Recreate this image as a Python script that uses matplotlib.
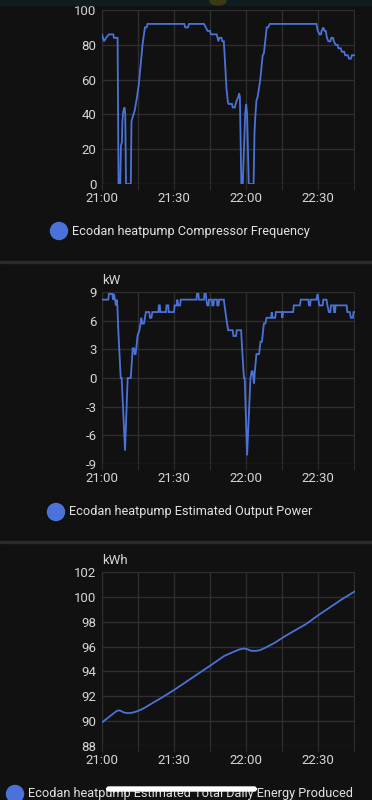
import matplotlib
matplotlib.use("Agg")
import matplotlib.pyplot as plt
from matplotlib.patches import FancyBboxPatch, Rectangle, Ellipse

# minutes after 21:00
freq_t = [0, 0.8, 1.7, 2.9, 4.7, 5.0, 6.5, 6.9, 7.6, 7.9, 8.3, 8.5, 8.9, 9.4, 9.7, 10.0,
          12.0, 12.3, 12.7, 13.1, 13.6, 14.6, 15.4, 16.9, 17.3, 17.9, 18.6, 19.0,
          34.3, 34.7, 35.8, 36.3, 42.5, 43.3, 44.0, 45.0, 45.4, 47.8, 48.2, 48.5, 49.0,
          49.8, 50.2, 50.8, 51.3, 51.9, 52.5, 52.8, 54.2, 54.5, 55.4, 55.7, 56.2, 56.8,
          57.2, 57.5, 58.1, 58.7, 59.2, 59.7, 60.1, 60.5, 61.2, 63.2, 63.6, 63.9, 64.4,
          64.9, 66.0, 67.0, 67.5, 68.7, 69.3, 70.0, 89.4, 90.0, 90.7, 91.3, 91.6, 92.3,
          92.8, 93.3, 93.8, 94.4, 95.2, 95.6, 96.3, 96.7, 97.4, 98.2, 98.6, 99.6, 100.0,
          101.0, 101.4, 102.5, 103.0, 103.8, 104.2, 105.5]
freq_v = [86, 82, 84, 86, 86, 84, 84, 0, 0, 22, 24, 36, 42, 44, 40, 0,
          0, 36, 38, 40, 42, 50, 58, 80, 84, 90, 90, 92,
          92, 90, 90, 92, 92, 90, 88, 88, 86, 86, 84, 82, 84,
          84, 82, 82, 70, 55, 47, 46, 46, 44, 44, 46, 48, 50,
          52, 50, 0, 0, 20, 40, 46, 40, 0, 0, 30, 38, 48,
          50, 60, 74, 75, 90, 90, 92, 92, 88, 86, 86, 88, 90,
          88, 88, 84, 82, 82, 84, 84, 82, 80, 80, 78, 78, 76,
          76, 74, 74, 72, 72, 74, 74]

power_t = [0, 2.6, 2.9, 4.3, 4.6, 5.0, 5.4, 5.8, 6.1, 6.4, 6.8, 7.8, 8.2, 9.6, 10.7, 12.0,
           12.8, 13.4, 13.6, 14.0, 14.3, 14.8, 15.6, 16.1, 16.4, 16.8, 17.5, 18.3, 19.7,
           20.0, 20.6, 21.0, 23.5, 23.7, 24.1, 24.3, 26.7, 26.9, 27.6, 27.8, 30.0, 30.3,
           31.2, 31.4, 31.8, 32.6, 32.8, 39.4, 39.6, 40.2, 40.4, 42.5, 42.7, 43.3, 43.5,
           43.9, 44.4, 44.6, 45.8, 46.0, 46.5, 46.7, 47.9, 48.1, 48.6, 48.8, 50.8, 51.1,
           51.8, 52.6, 54.5, 54.8, 55.9, 56.2, 58.0, 58.7, 59.2, 59.5, 60.5, 61.9, 62.4,
           62.8, 63.1, 63.4, 63.7, 64.2, 64.4, 65.5, 66.1, 66.7, 67.5, 68.1, 68.6, 70.5,
           70.8, 71.1, 72.2, 72.5, 75.0, 75.2, 75.5, 79.7, 80.0, 82.5, 82.9, 86.0, 86.3,
           86.8, 87.0, 89.4, 89.9, 90.6, 92.0, 92.3, 93.6, 94.0, 94.6, 95.2, 95.5, 96.6,
           96.8, 97.2, 97.4, 102.0, 102.3, 103.3, 103.8, 104.6, 104.9, 105.5]
power_v = [8.2, 8.2, 8.8, 8.8, 8.2, 8.8, 8.2, 7.6, 8.2, 7.6, 5.0, 0, 0, -7.6, 0, 0,
           3.1, 3.1, 2.5, 2.5, 3.1, 4.4, 5.0, 5.7, 6.3, 5.7, 5.7, 6.9, 6.9,
           6.3, 6.3, 6.9, 6.9, 7.6, 7.6, 6.9, 6.9, 7.6, 7.6, 6.9, 6.9, 7.6,
           7.6, 8.2, 7.6, 7.6, 8.2, 8.2, 8.8, 8.8, 8.2, 8.2, 8.8, 8.8, 8.2,
           7.6, 7.6, 8.2, 8.2, 7.6, 7.6, 8.2, 8.2, 7.6, 7.6, 8.2, 8.2, 7.6,
           6.3, 5.0, 5.0, 4.4, 4.4, 5.0, 5.0, 1.9, 0, 0, -8.1, 0, 0.7,
           0.7, 0, -0.6, 0.6, 1.9, 2.5, 2.5, 3.8, 3.8, 5.7, 5.7, 6.3, 6.3,
           6.9, 6.3, 6.3, 6.9, 6.9, 6.3, 6.9, 6.9, 7.6, 7.6, 8.2, 8.2, 7.6,
           7.6, 8.2, 8.2, 8.8, 7.6, 7.6, 8.2, 8.2, 7.6, 6.9, 6.9, 7.6, 7.6,
           6.9, 6.9, 7.6, 7.6, 6.9, 6.9, 6.3, 6.3, 6.9, 6.9]

energy_t = [0, 2, 4, 6, 7, 8, 9, 10.5, 12, 14, 16, 18, 21, 25, 30, 35, 40, 45, 48, 51,
            54, 57, 59, 60.5, 62, 64, 66, 68, 72, 76, 80, 85, 90, 95, 100, 105.5]
energy_v = [89.9, 90.2, 90.5, 90.8, 90.87, 90.82, 90.7, 90.65, 90.66, 90.75, 90.9, 91.1,
            91.45, 91.9, 92.5, 93.15, 93.8, 94.45, 94.85, 95.25, 95.5, 95.75, 95.85, 95.8,
            95.67, 95.65, 95.72, 95.9, 96.3, 96.8, 97.25, 97.8, 98.5, 99.15, 99.8, 100.45]

time_ticks = [0, 30, 60, 90]
time_labels = ["21:00", "21:30", "22:00", "22:30"]
grid_x = [0, 15, 30, 45, 60, 75, 90, 105]

BG = "#111111"
GRID = "#2e2e2e"
LINE = "#4a72d8"
TXT = "#d6d6d6"

plt.rcParams['font.family'] = ['Roboto', 'DejaVu Sans']

W, H = 372, 800
fig = plt.figure(figsize=(W / 100, H / 100), dpi=100, facecolor=BG)


def px(x0, y0, x1, y1):
    # pixel box -> figure fraction [left, bottom, width, height]
    return [x0 / W, 1 - y1 / H, (x1 - x0) / W, (y1 - y0) / H]


def panel(box, t, v, yticks, ylabels, unit=None):
    ax = fig.add_axes(px(*box))
    ax.set_facecolor(BG)
    ax.plot(t, v, color=LINE, lw=1.3, solid_joinstyle='miter')
    ax.set_xlim(0, 105.5)
    ax.set_ylim(yticks[0], yticks[-1])
    ax.set_yticks(yticks)
    ax.set_yticklabels(ylabels)
    ax.set_xticks(grid_x)
    ax.set_xticklabels([time_labels[time_ticks.index(g)] if g in time_ticks else ""
                        for g in grid_x])
    ax.grid(True, color=GRID, lw=1)
    for s in ax.spines.values():
        s.set_visible(False)
    ax.tick_params(axis='x', length=4, color=GRID, pad=2, labelcolor=TXT, labelsize=9.5)
    ax.tick_params(axis='y', length=0, pad=4, labelcolor=TXT, labelsize=9.5)
    if unit:
        ax.text(0, 1.03, unit, transform=ax.transAxes, ha='left', va='bottom',
                color=TXT, fontsize=9.5)
    return ax


panel((102, 10, 355, 184), freq_t, freq_v, [0, 20, 40, 60, 80, 100],
      ["0", "20", "40", "60", "80", "100"])
panel((102, 292, 355, 464), power_t, power_v, [-9, -6, -3, 0, 3, 6, 9],
      ["-9", "-6", "-3", "0", "3", "6", "9"], "kW")
panel((102, 572, 355, 746), energy_t, energy_v, [88, 90, 92, 94, 96, 98, 100, 102],
      ["88", "90", "92", "94", "96", "98", "100", "102"], "kWh")

# legends
legends = [(59, 231, "Ecodan heatpump Compressor Frequency"),
           (56, 512, "Ecodan heatpump Estimated Output Power"),
           (15, 794, "Ecodan heatpump Estimated Total Daily Energy Produced")]
for cx, cy, label in legends:
    fig.add_artist(Ellipse((cx / W, 1 - cy / H), 17 / W, 17 / H, color=LINE,
                           transform=fig.transFigure))
    fig.text((cx + 13) / W, 1 - cy / H, label, ha='left', va='center',
             color="#e2e2e2", fontsize=9.2)

# card separators
for y in (262, 542):
    fig.add_artist(Rectangle((0, 1 - (y + 1) / H), 1, 2 / H, color="#2a2a2a",
                             transform=fig.transFigure))

# top status strip
fig.add_artist(Rectangle((0, 1 - 5 / H), 1, 5 / H, color="#0f1c22",
                         transform=fig.transFigure))
fig.add_artist(Ellipse((218 / W, 1 - 1 / H), 16 / W, 8 / H, color="#3b3a14",
                       transform=fig.transFigure))

# home indicator
fig.add_artist(FancyBboxPatch((107 / W, 1 - 791 / H), 149 / W, 4 / H,
                              boxstyle="round,pad=0,rounding_size=0.004",
                              color="white", transform=fig.transFigure, zorder=10))

fig.savefig("out.png", dpi=100, facecolor=BG)
